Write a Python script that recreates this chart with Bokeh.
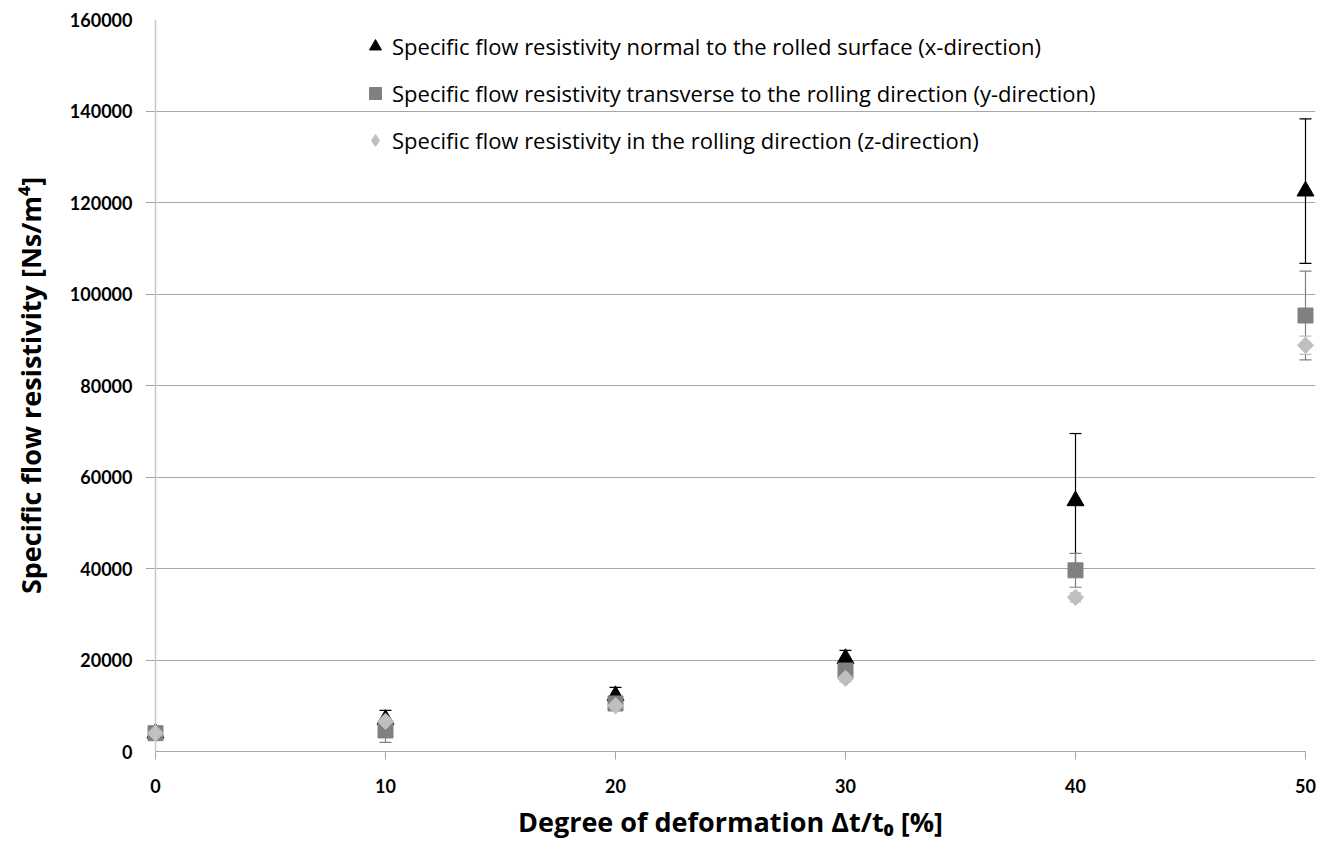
from bokeh.plotting import figure
from bokeh.models import (Range1d, ColumnDataSource, Whisker, TeeHead, Legend, LegendItem,
                          FixedTicker, BasicTickFormatter, Span)
from bokeh.embed import file_html
from bokeh.resources import INLINE
import math

# ---- data ----
deformation = [0, 10, 20, 30, 40, 50]
x_mean = [4000, 7000, 12200, 20300, 54800, 122500]
x_err = [300, 2000, 1800, 1800, 14700, 15800]
y_mean = [4000, 4600, 10500, 17700, 39600, 95300]
y_err = [300, 2600, 1000, 1200, 3700, 9700]
z_mean = [4000, 6600, 10000, 16000, 33700, 88800]
z_err = [300, 600, 800, 800, 1000, 2000]

labels = [
    "Specific flow resistivity normal to the rolled surface (x-direction)",
    "Specific flow resistivity transverse to the rolling direction (y-direction)",
    "Specific flow resistivity in the rolling direction (z-direction)",
]
x_ticks = [0, 10, 20, 30, 40, 50]
y_ticks = [0, 20000, 40000, 60000, 80000, 100000, 120000, 140000, 160000]

TICK_FONT = "Lato"
TITLE_FONT = "Open Sans"
LEGEND_FONT = "Open Sans"

# frame is padded by 10 px on each side so markers at x=0 and x=50 are not clipped
PX_PER_UNIT = 1150 / 50.0
PAD = 10 / PX_PER_UNIT

p = figure(width=1332, height=846, output_backend="svg", toolbar_location=None,
           x_range=Range1d(-PAD, 50 + PAD), y_range=Range1d(0, 160000),
           min_border_left=145, min_border_right=17, min_border_top=19, min_border_bottom=95)
p.outline_line_color = None
p.background_fill_color = "white"

p.xgrid.grid_line_color = None
p.ygrid.grid_line_color = "#a6a6a6"
p.ygrid.grid_line_width = 1
p.ygrid.bounds = (-8 / PX_PER_UNIT, 50)

p.xaxis.ticker = FixedTicker(ticks=x_ticks)
p.yaxis.ticker = FixedTicker(ticks=y_ticks)
p.yaxis.formatter = BasicTickFormatter(use_scientific=False)

for ax in (p.xaxis[0], p.yaxis[0]):
    ax.minor_tick_line_color = None
    ax.major_tick_in = 0
    ax.major_label_text_font = TICK_FONT
    ax.major_label_text_font_style = "bold"
    ax.major_label_text_font_size = "18px"
    ax.major_label_text_color = "black"
    ax.axis_label_text_font = TITLE_FONT
    ax.axis_label_text_font_style = "bold"
    ax.axis_label_text_font_size = "27px"
    ax.axis_label_text_color = "black"

p.xaxis.bounds = (0, 50)
p.xaxis.axis_line_color = "#a6a6a6"
p.xaxis.major_tick_line_color = "#a6a6a6"
p.xaxis.major_tick_out = 8
p.xaxis.major_label_standoff = 19
p.xaxis.axis_label = "Degree of deformation \u0394t/t\u2080 [%]"
p.xaxis.axis_label_standoff = 7

p.yaxis.axis_line_color = None
p.yaxis.major_tick_line_color = None
p.yaxis.major_tick_out = 0
p.yaxis.major_label_standoff = 13
p.yaxis.axis_label = "Specific flow resistivity [Ns/m\u2074]"
p.yaxis.axis_label_standoff = 18

# vertical axis line at x = 0
p.add_layout(Span(location=0, dimension="height", line_color="#c8c8c8", line_width=1.5))

series = [
    (x_mean, x_err, "black", "triangle", 17, 0.0),
    (y_mean, y_err, "#808080", "square", 15, 0.0),
    (z_mean, z_err, "#bfbfbf", "square", 11.5, math.pi / 4),
]

renderers = []
for mean, err, color, marker, size, ang in series:
    src = ColumnDataSource(dict(
        x=deformation, y=mean,
        upper=[m + e for m, e in zip(mean, err)],
        lower=[m - e for m, e in zip(mean, err)],
    ))
    w = Whisker(base="x", upper="upper", lower="lower", source=src,
                line_color=color, line_width=1.2,
                upper_head=TeeHead(size=12, line_color=color, line_width=1.2),
                lower_head=TeeHead(size=12, line_color=color, line_width=1.2))
    p.add_layout(w)
    r = p.scatter("x", "y", source=src, marker=marker, size=size, angle=ang,
                  fill_color=color, line_color=color)
    renderers.append(r)

# legend-only glyph for the diamond symbol (placed far outside the visible range)
legend_diamond = p.scatter(x=[-1000], y=[-1e7], marker="diamond", size=12,
                           fill_color="#bfbfbf", line_color="#bfbfbf")
legend_renderers = [renderers[0], renderers[1], legend_diamond]

legend = Legend(items=[LegendItem(label=l, renderers=[r]) for l, r in zip(labels, legend_renderers)],
                location=(215, 596), orientation="vertical")
legend.background_fill_alpha = 0
legend.border_line_color = None
legend.label_text_font = LEGEND_FONT
legend.label_text_font_size = "22px"
legend.label_text_color = "black"
legend.glyph_width = 30
legend.glyph_height = 30
legend.label_height = 30
legend.spacing = 17
legend.label_standoff = 2
legend.padding = 0
legend.margin = 0
p.add_layout(legend, "center")

open("out.html", "w").write(file_html(p, INLINE))
